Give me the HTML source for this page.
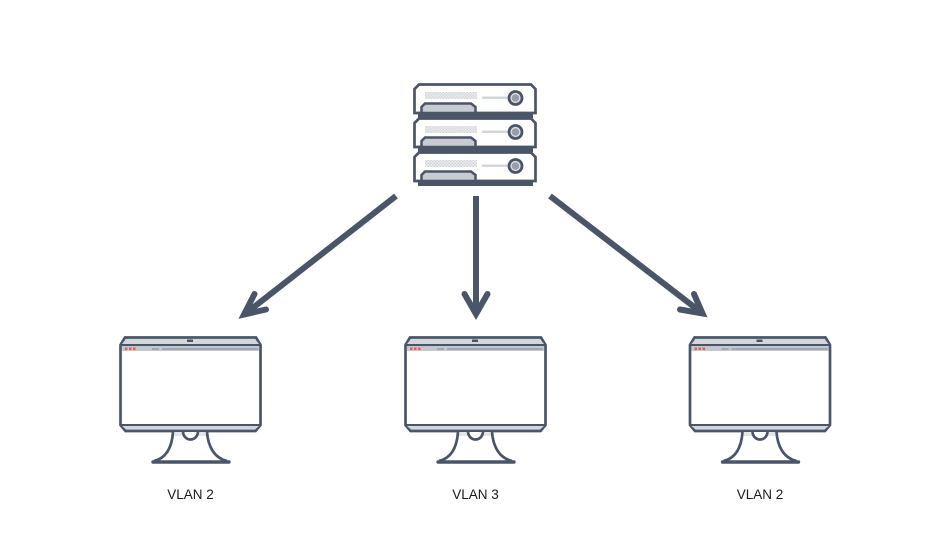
<!DOCTYPE html>
<html><head><meta charset="utf-8"><style>
html,body{margin:0;padding:0;background:#fff;width:950px;height:550px;overflow:hidden}
svg{display:block}
text{font-family:"Liberation Sans",sans-serif;font-size:13.500px;fill:#1a1a1a;text-anchor:middle}
</style></head><body>
<svg width="950" height="550" viewBox="0 0 950 550" xmlns="http://www.w3.org/2000/svg">
<defs>
<pattern id="dots" width="3" height="3" patternUnits="userSpaceOnUse">
<rect width="3" height="3" fill="#eceef0"/>
<rect width="1.500" height="1.500" fill="#d3d6da"/>
<rect x="1.500" y="1.500" width="1.500" height="1.500" fill="#d3d6da"/>
</pattern>
<g id="srv">
<path d="M414.500 113V89L419 84.500H531L535.500 89V113Z" fill="#fff" stroke="#4a5568" stroke-width="2.700"/>
<rect x="425" y="92" width="52" height="7" fill="url(#dots)"/>
<rect x="482" y="96.500" width="26" height="2.500" fill="#d3d6da"/>
<circle cx="515.500" cy="98" r="6.500" fill="#dfe1e5" stroke="#4a5568" stroke-width="2.800"/>
<circle cx="515.500" cy="98" r="3.800" fill="#9a9ea7"/>
<path d="M421.500 113V107L425 103.500H471L475.500 107V113Z" fill="#c8cbd1" stroke="#4a5568" stroke-width="2.500"/>
<rect x="418" y="112.500" width="115" height="5.500" fill="#4a5568"/>
</g>
<g id="mon">
<path d="M120.500 345L125 337.500H256L260.500 345V425L255.500 431H125.500L120.500 425Z" fill="#fff" stroke="#4a5568" stroke-width="2.700"/>
<path d="M122 344L126 339H255L259 344Z" fill="#d3d6dc"/>
<rect x="187" y="339.500" width="6" height="2.500" fill="#4a5568"/>
<rect x="120" y="344" width="141" height="2" fill="#4a5568"/>
<rect x="122" y="346" width="137" height="5" fill="#c3c7ce"/>
<rect x="125" y="347.500" width="2.500" height="2.500" fill="#e8604c"/>
<rect x="129" y="347.500" width="2.500" height="2.500" fill="#e8604c"/>
<rect x="133" y="347.500" width="2.500" height="2.500" fill="#e8604c"/>
<rect x="152" y="348" width="7" height="2" fill="#a3a7af"/>
<rect x="162" y="348" width="96" height="2" fill="#a3a7af"/>
<path d="M122 426H259L255 429.500H126Z" fill="#d3d6dc"/>
<rect x="120" y="424" width="141" height="2" fill="#4a5568"/>
<rect x="173" y="432" width="35" height="4" fill="#e3e5e9"/>
<path d="M173 432C172 446 167 458 154 461M207 432C208 446 214 458 227 461" fill="none" stroke="#4a5568" stroke-width="2.700"/>
<path d="M183 432C184 442 197 442 198 432" fill="#fff" stroke="#4a5568" stroke-width="2.700"/>
<path d="M153 462H229" stroke="#4a5568" stroke-width="3.400" stroke-linecap="round"/>
</g>
</defs>
<use href="#srv"/>
<use href="#srv" y="34"/>
<use href="#srv" y="68"/>
<use href="#mon"/>
<use href="#mon" x="285"/>
<use href="#mon" x="569.500"/>
<g fill="none" stroke="#4a5568" stroke-width="6">
<path d="M396 196L245 314"/>
<path d="M476 196V313"/>
<path d="M550 196L702 313"/>
<g stroke-linejoin="miter" stroke-linecap="round">
<path d="M254.500 294L244 314.500L266 309.500"/>
<path d="M464.500 294L476 314L487.500 294"/>
<path d="M694 294L702.500 313.500L680 309.500"/>
</g>
</g>
<text x="190.500" y="499">VLAN 2</text>
<text x="475.500" y="499">VLAN 3</text>
<text x="760" y="499">VLAN 2</text>
</svg>
</body></html>
